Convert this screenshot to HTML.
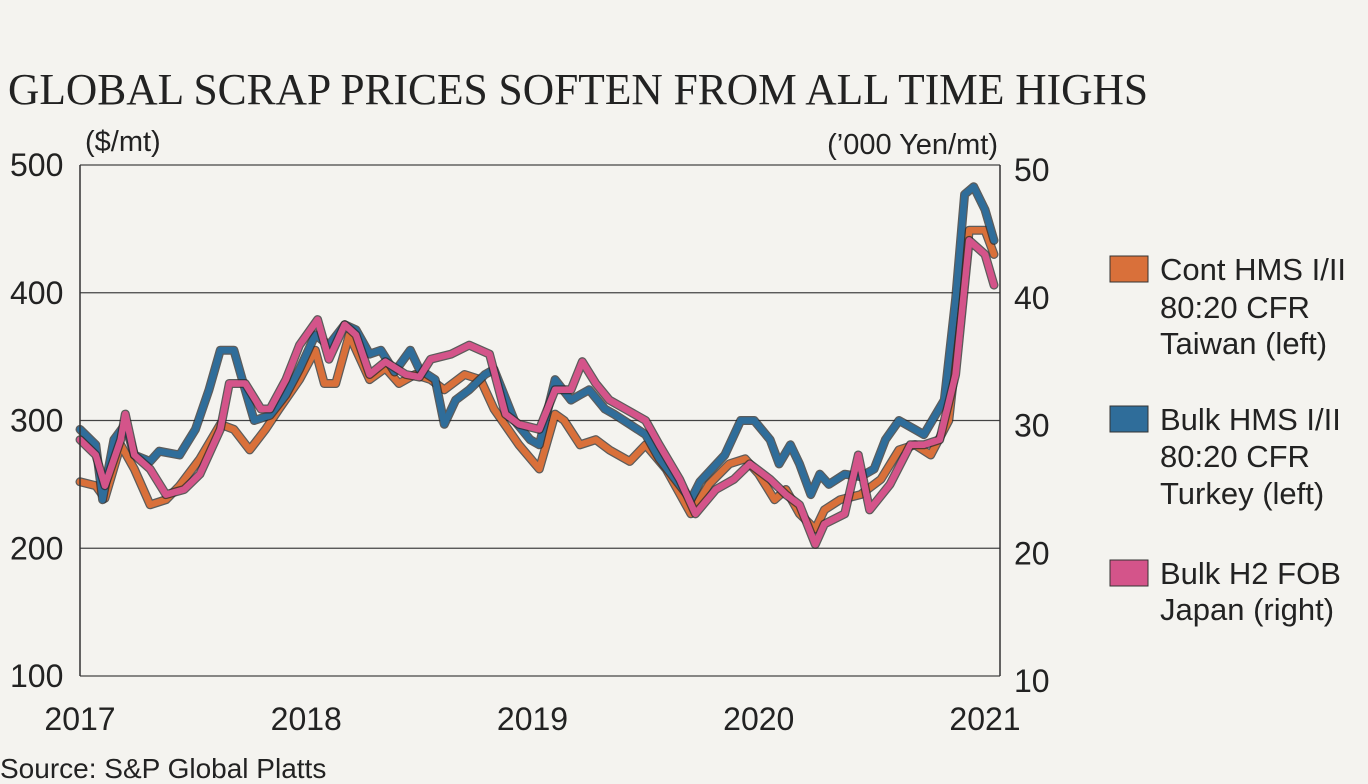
<!DOCTYPE html>
<html><head><meta charset="utf-8"><style>
body{margin:0;background:#f4f3ef;}
svg{display:block;font-family:"Liberation Sans",sans-serif;}
</style></head><body>
<svg id="c" width="1368" height="784" viewBox="0 0 1368 784">
<rect width="1368" height="784" fill="#f4f3ef"/>
<text x="8" y="104" font-family="Liberation Serif,serif" font-size="44" textLength="1140" lengthAdjust="spacingAndGlyphs" fill="#222">GLOBAL SCRAP PRICES SOFTEN FROM ALL TIME HIGHS</text>
<text x="85" y="151" font-size="29" fill="#222">($/mt)</text>
<text x="998" y="154" font-size="29" fill="#222" text-anchor="end">(’000 Yen/mt)</text>
<g id="grid"></g><g id="lines"></g><g id="axes"></g>
<text x="0" y="778" font-size="28" fill="#222">Source: S&amp;P Global Platts</text>
<g>
<rect x="1110" y="256" width="38" height="26" fill="#d9703a" stroke="#333"/>
<text font-size="31" fill="#222"><tspan x="1160" y="280">Cont HMS I/II</tspan><tspan x="1160" y="318">80:20 CFR</tspan><tspan x="1160" y="354">Taiwan (left)</tspan></text>
<rect x="1110" y="406" width="38" height="26" fill="#2f6d9a" stroke="#333"/>
<text font-size="31" fill="#222"><tspan x="1160" y="430">Bulk HMS I/II</tspan><tspan x="1160" y="467">80:20 CFR</tspan><tspan x="1160" y="504">Turkey (left)</tspan></text>
<rect x="1110" y="560" width="38" height="26" fill="#d4548a" stroke="#333"/>
<text font-size="31" fill="#222"><tspan x="1160" y="584">Bulk H2 FOB</tspan><tspan x="1160" y="620">Japan (right)</tspan></text>
</g>
</svg>
<script>
const leftTicks=[100,200,300,400,500];
const rightTicks=["10","20","30","40","50"];
const yearTicks=[2017,2018,2019,2020,2021];
const turkeyDates=[2017.00,2017.07,2017.10,2017.15,2017.20,2017.24,2017.31,2017.35,2017.44,2017.51,2017.57,2017.62,2017.68,2017.73,2017.77,2017.84,2017.91,2017.97,2018.04,2018.10,2018.17,2018.22,2018.28,2018.33,2018.39,2018.46,2018.50,2018.57,2018.61,2018.66,2018.72,2018.79,2018.83,2018.92,2018.99,2019.03,2019.10,2019.17,2019.21,2019.25,2019.32,2019.36,2019.43,2019.50,2019.56,2019.70,2019.74,2019.85,2019.92,2019.98,2020.05,2020.09,2020.14,2020.18,2020.23,2020.27,2020.31,2020.38,2020.45,2020.51,2020.56,2020.62,2020.69,2020.73,2020.82,2020.87,2020.91,2020.95,2021.00,2021.04];
const turkeyValues=[293,281,238,285,297,273,268,276,273,293,324,355,355,324,300,304,320,340,367,359,375,371,352,355,338,355,340,332,297,316,324,336,340,300,285,281,332,316,320,324,309,305,297,289,270,238,252,273,300,300,285,266,281,266,242,258,250,258,256,262,285,300,293,289,316,395,477,483,465,441];
const taiwanDates=[2017.00,2017.07,2017.11,2017.18,2017.24,2017.31,2017.38,2017.44,2017.53,2017.62,2017.68,2017.75,2017.82,2017.88,2017.97,2018.04,2018.08,2018.13,2018.19,2018.28,2018.35,2018.41,2018.48,2018.55,2018.61,2018.70,2018.77,2018.83,2018.94,2019.03,2019.10,2019.14,2019.21,2019.28,2019.34,2019.43,2019.50,2019.59,2019.70,2019.78,2019.87,2019.94,2020.00,2020.07,2020.12,2020.18,2020.25,2020.29,2020.36,2020.45,2020.54,2020.62,2020.69,2020.76,2020.84,2020.89,2020.93,2021.00,2021.04];
const taiwanValues=[252,249,239,281,262,234,238,249,270,297,293,277,293,309,332,355,329,329,367,332,341,329,336,332,324,336,332,309,281,262,305,300,281,285,277,268,281,262,227,250,266,270,258,238,246,227,215,230,238,242,254,277,281,273,300,379,449,449,430];
const japanDates=[2017.00,2017.07,2017.11,2017.18,2017.20,2017.24,2017.31,2017.38,2017.46,2017.53,2017.62,2017.66,2017.73,2017.80,2017.84,2017.91,2017.97,2018.05,2018.10,2018.17,2018.22,2018.28,2018.35,2018.44,2018.50,2018.55,2018.64,2018.72,2018.81,2018.88,2018.94,2019.03,2019.10,2019.17,2019.22,2019.28,2019.34,2019.41,2019.50,2019.56,2019.65,2019.72,2019.81,2019.89,2019.96,2020.05,2020.12,2020.18,2020.25,2020.29,2020.38,2020.44,2020.49,2020.58,2020.67,2020.73,2020.80,2020.87,2020.93,2021.00,2021.04];
const japanValues=[28.5,27.3,24.9,28.5,30.5,27.3,26.2,24.2,24.6,25.8,29.3,32.9,32.9,30.9,30.9,33.2,35.9,37.9,34.8,37.5,36.7,33.6,34.6,33.6,33.4,34.8,35.2,35.9,35.2,30.5,29.7,29.3,32.4,32.4,34.6,32.9,31.6,30.9,30.0,28.1,25.4,22.7,24.6,25.4,26.6,25.4,24.2,23.4,20.3,21.9,22.7,27.3,23.0,25.0,28.1,28.1,28.5,33.6,44.1,43.0,40.6];
const X0=80,X1=1000,Y0=676,Y1=165;
function xs(d){return X0+(d-2017)*(985-X0)/4;}
function yl(v){return Y0-(v-100)*(Y0-Y1)/400;}
function yr(v){return Y0-(v-10)*(Y0-Y1)/40;}
const NS="http://www.w3.org/2000/svg";
function mk(t,a,p){const e=document.createElementNS(NS,t);for(const k in a)e.setAttribute(k,a[k]);p.appendChild(e);return e;}
const grid=document.getElementById('grid'),axes=document.getElementById('axes'),lines=document.getElementById('lines');
leftTicks.forEach((v,i)=>{
  const g=mk('line',{x1:X0,x2:X1,y1:yl(v),y2:yl(v),stroke:'#444','stroke-width':1.2},grid);
  
  
  const t=mk('text',{x:10,y:yl(v)+11,'font-size':32,fill:'#222'},axes);t.textContent=v;
  
  
  const r=mk('text',{x:1014,y:yl(v)+16,'font-size':32,fill:'#222'},axes);r.textContent=rightTicks[i];
  
  
});
const la=mk('line',{x1:X0,x2:X0,y1:Y1,y2:Y0,stroke:'#333','stroke-width':1.5},axes);


const ra=mk('line',{x1:X1,x2:X1,y1:Y1,y2:Y0,stroke:'#333','stroke-width':1.5},axes);


yearTicks.forEach(y=>{
  const t=mk('text',{x:xs(y),y:730,'font-size':32,fill:'#222','text-anchor':'middle'},axes);t.textContent=y;
  
  
});
function draw(dates,vals,sc,col,name){
  const d=dates.map((x,i)=>(i?'L':'M')+xs(x).toFixed(1)+','+sc(vals[i]).toFixed(1)).join('');
  const o=mk('path',{d:d,fill:'none',stroke:'#2a2a2a','stroke-width':9,'stroke-linejoin':'round','stroke-linecap':'round',opacity:0.75},lines);
  
  
  const p=mk('path',{d:d,fill:'none',stroke:col,'stroke-width':6.5,'stroke-linejoin':'round','stroke-linecap':'round'},lines);
  
  
}
draw(taiwanDates,taiwanValues,yl,'#d9703a','taiwan');
draw(turkeyDates,turkeyValues,yl,'#2f6d9a','turkey');
draw(japanDates,japanValues,yr,'#d4548a','japan');
</script>
</body></html>
